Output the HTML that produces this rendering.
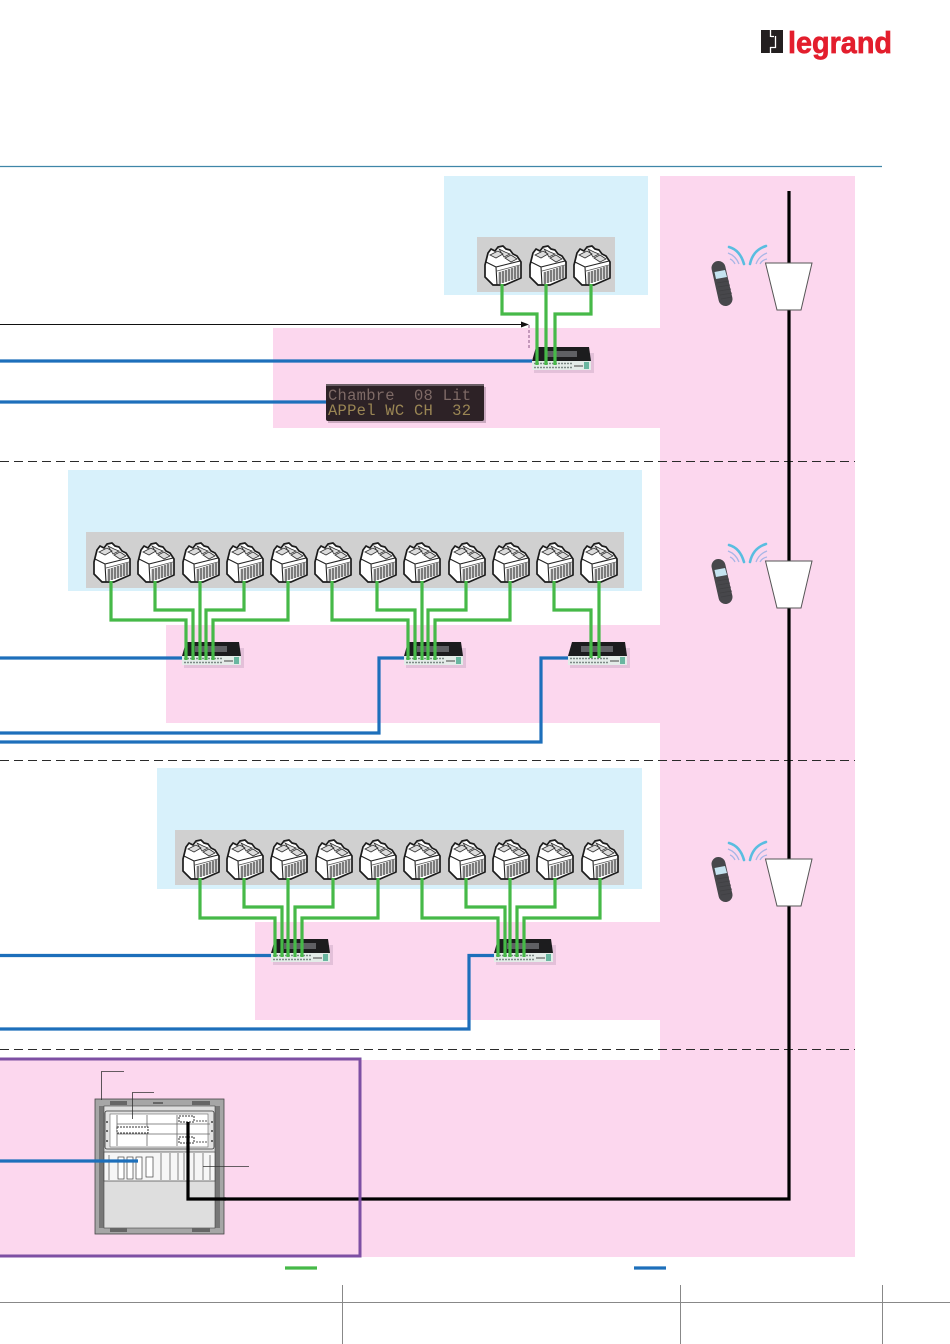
<!DOCTYPE html>
<html><head><meta charset="utf-8"><style>
html,body{margin:0;padding:0;background:#fff}
svg{display:block}
</style></head><body>
<svg xmlns="http://www.w3.org/2000/svg" width="950" height="1344" viewBox="0 0 950 1344">
<defs>
<filter id="soft" x="-5%" y="-5%" width="110%" height="110%"><feGaussianBlur stdDeviation="0.35"/></filter>
<g id="t">
 <path d="M-14,-12 L-11,-16 L-7,-14 L-4,-18 L1,-19 L4,-16 L8,-15 L11,-11 L15,-9 L19,-3 L19,13 L3,20 L-9,20 L-17,12 L-17,0 Z" fill="#fff" stroke="#1a1a1a" stroke-width="1.700" stroke-linejoin="round"/>
 <path d="M-12,-10 L-4,-14 L1,-11 L-6,-7 Z M-3,-16 L3,-13 L8,-11 L2,-8 Z M3,-7 L9,-10 L15,-6 L9,-3 Z" fill="#dcdcdc" stroke="#333" stroke-width=".8"/>
 <path d="M-16,-3 L-6,2 L-5,20 M-6,2 L18,-4" fill="none" stroke="#222" stroke-width="1.100"/>
 <path d="M-5,6 L18,0" fill="none" stroke="#555" stroke-width=".8"/>
 <rect x="-4" y="6" width="22" height="12" fill="#b4b4b4" opacity=".55" transform="skewY(-16)"/>
 <path d="M-2,7 V19 M1,6 V18 M4,5 V17 M7,4 V16 M10,3 V15 M13,2 V14 M16,1 V13" stroke="#333" stroke-width="1.100"/>
</g>
<g id="d">
 <rect x="2" y="6" width="60" height="20" fill="#c9a9c4" opacity=".5"/>
 <path d="M4,0 H57 L59,14 H0 Z" fill="#1c1c1e"/>
 <rect x="13" y="4" width="32" height="6" fill="#5f6064"/>
 <rect x="0" y="14" width="59" height="9" fill="#e4ece9"/>
 <path d="M2,16.500 H40 M2,20.500 H40" stroke="#7d8a87" stroke-width="1.500" stroke-dasharray="2 1"/>
 <path d="M42,19 H51" stroke="#444" stroke-width="1"/>
 <rect x="52" y="15" width="5" height="7" fill="#69b6a0"/>
</g>
<g id="ph">
 <path d="M718.500,268 L725.500,299" stroke="#47474b" stroke-width="14" stroke-linecap="round"/>
 <path d="M714.500,272 L725,270 L727,277 L716,279 Z" fill="#c5e3f0"/>
 <g fill="none" stroke="#3f3f43" stroke-width=".8" opacity=".9"><path d="M717,283 L729,281 M718,287 L730,285 M719,291 L731,289 M720,295 L732,293 M721,299 L732,297"/></g>
 <g fill="none" stroke="#59bde0" stroke-width="2.600" stroke-linecap="round">
  <path d="M729,247 Q740,250 744,264"/>
  <path d="M766,246 Q753,250 750,264"/>
 </g>
 <g fill="none" stroke="#a8b6e6" stroke-width="1.300">
  <path d="M728,253 Q736,256 739,264"/>
  <path d="M767,253 Q759,256 756,264"/>
  <path d="M730,259 Q733,260 735,264"/>
  <path d="M767,259 Q762,260 760,264"/>
 </g>
 <path d="M765.500,263 H812 L801,310 H777 Z" fill="#fff" stroke="#555" stroke-width="1"/>
</g>
</defs>

<rect width="950" height="1344" fill="#fff"/>

<g fill="#fcd7ee">
 <rect x="660" y="176" width="195" height="1081"/>
 <rect x="273" y="328" width="387" height="100"/>
 <rect x="166" y="625" width="494" height="98"/>
 <rect x="255" y="922" width="405" height="98"/>
 <rect x="0" y="1060" width="855" height="197"/>
</g>
<g fill="#d8f1fb">
 <rect x="444" y="176" width="204" height="119"/>
 <rect x="68" y="470" width="574" height="121"/>
 <rect x="157" y="768" width="485" height="121"/>
</g>
<g fill="#d0d0d0">
 <rect x="477" y="237" width="138" height="55"/>
 <rect x="86" y="532" width="538" height="56"/>
 <rect x="175" y="830" width="449" height="55"/>
</g>

<path d="M0,166.500 H882" stroke="#3f86a8" stroke-width="1.200"/>

<!-- logo -->
<rect x="761" y="30" width="22" height="23" fill="#231f20"/>
<path d="M770.500,30 V37 M775.500,36 V47.500 H770 M770.500,47 V53 M771,36.500 H774" fill="none" stroke="#fff" stroke-width="1.300"/>
<text x="788" y="53" font-family="'Liberation Sans',sans-serif" font-weight="700" font-size="31" fill="#e31e2d" stroke="#e31e2d" stroke-width=".7" textLength="104" lengthAdjust="spacingAndGlyphs">legrand</text>

<g stroke="#2a2a2a" stroke-width="1" stroke-dasharray="9 5" fill="none">
 <path d="M0,461.500 H855"/>
 <path d="M0,760.500 H855"/>
 <path d="M0,1049.500 H855"/>
</g>

<g filter="url(#soft)">
 <use href="#t" x="502" y="265"/><use href="#t" x="547" y="265"/><use href="#t" x="591" y="265"/>
 <use href="#t" x="111" y="562"/><use href="#t" x="155" y="562"/><use href="#t" x="200" y="562"/><use href="#t" x="244" y="562"/><use href="#t" x="288" y="562"/><use href="#t" x="332" y="562"/><use href="#t" x="377" y="562"/><use href="#t" x="421" y="562"/><use href="#t" x="466" y="562"/><use href="#t" x="510" y="562"/><use href="#t" x="554" y="562"/><use href="#t" x="598" y="562"/>
 <use href="#t" x="200" y="859"/><use href="#t" x="244" y="859"/><use href="#t" x="288" y="859"/><use href="#t" x="333" y="859"/><use href="#t" x="377" y="859"/><use href="#t" x="421" y="859"/><use href="#t" x="466" y="859"/><use href="#t" x="510" y="859"/><use href="#t" x="554" y="859"/><use href="#t" x="599" y="859"/>
</g>

<use href="#d" x="532" y="347"/>
<use href="#d" x="182" y="642"/>
<use href="#d" x="404" y="642"/>
<use href="#d" x="568" y="642"/>
<use href="#d" x="271" y="939"/>
<use href="#d" x="494" y="939"/>

<g fill="none" stroke="#46b948" stroke-width="3.200">
 <path d="M502,284 V314 H537 V365"/><path d="M546,284 V365"/><path d="M591,284 V314 H555 V365"/>
 <path d="M111,581 V620 H186 V660"/><path d="M155,581 V610 H193 V660"/><path d="M200,581 V660"/><path d="M244,581 V610 H206 V660"/><path d="M288,581 V620 H213 V660"/>
 <path d="M332,581 V620 H408 V660"/><path d="M377,581 V610 H415 V660"/><path d="M422,581 V660"/><path d="M466,581 V610 H428 V660"/><path d="M510,581 V620 H435 V660"/>
 <path d="M554,581 V610 H591 V658"/><path d="M599,581 V658"/>
 <path d="M200,878 V918 H275 V957"/><path d="M244,878 V907 H282 V957"/><path d="M288,878 V957"/><path d="M333,878 V907 H295 V957"/><path d="M378,878 V918 H302 V957"/>
 <path d="M422,878 V918 H498 V957"/><path d="M466,878 V907 H505 V957"/><path d="M510,878 V957"/><path d="M555,878 V907 H517 V957"/><path d="M600,878 V918 H524 V957"/>
</g>

<g fill="none" stroke="#1d6fbb" stroke-width="3.200">
 <path d="M0,361 H532"/>
 <path d="M0,402 H330"/>
 <path d="M0,658 H182"/>
 <path d="M0,733 H379 V658 H404"/>
 <path d="M0,742 H541 V658 H568"/>
 <path d="M0,955.500 H271"/>
 <path d="M0,1029 H469 V955.500 H494"/>
</g>

<path d="M0,324.500 H522" stroke="#111" stroke-width="1"/>
<path d="M521,321.500 L529,324.500 L521,327.500 Z" fill="#111"/>
<path d="M529,325 V348" stroke="#8b5a88" stroke-width="1" stroke-dasharray="3 2"/>

<!-- display -->
<rect x="328" y="387" width="158" height="36" fill="#a98aa0" opacity=".6" filter="url(#soft)"/>
<rect x="326" y="384" width="158" height="37" rx="2" fill="#2d2226"/>
<rect x="326" y="384" width="158" height="2" fill="#6b5f66"/>
<text x="328" y="400" font-family="'Liberation Mono',monospace" font-size="15.500" fill="#7e6a66" textLength="143" xml:space="preserve">Chambre  08 Lit</text>
<text x="328" y="415" font-family="'Liberation Mono',monospace" font-size="15.500" fill="#9a8654" textLength="143" xml:space="preserve">APPel WC CH  32</text>

<path d="M789,191 V1199 H224" fill="none" stroke="#000" stroke-width="3.200"/>

<use href="#ph"/>
<use href="#ph" y="298"/>
<use href="#ph" y="596"/>

<!-- rack -->
<rect x="95" y="1099" width="129" height="135" fill="#a6a6a6" stroke="#444" stroke-width=".8"/>
<rect x="99" y="1106" width="5" height="122" fill="#777"/>
<rect x="215" y="1106" width="5" height="122" fill="#777"/>
<rect x="104" y="1106" width="111" height="122" fill="#dedede" stroke="#444" stroke-width=".6"/>
<rect x="105" y="1111" width="109" height="38" rx="2" fill="#e2e2e2" stroke="#333" stroke-width=".8"/>
<rect x="110" y="1114" width="98" height="33" fill="#fff" stroke="#666" stroke-width=".6"/>
<rect x="104" y="1152" width="111" height="29" fill="#f6f6f6" stroke="#444" stroke-width=".7"/>
<g stroke="#666" stroke-width=".8" fill="none">
 <path d="M117,1115 V1146 M147,1115 V1146 M177,1115 V1146 M117,1124 H210 M117,1134 H210"/>
 <path d="M161,1153 V1180 M170,1153 V1180 M178,1153 V1180 M184,1153 V1180 M194,1153 V1180 M203,1153 V1180"/>
 <path d="M109,1155 V1180 M210,1155 V1180"/>
</g>
<rect x="117" y="1127" width="31" height="6" fill="#fff" stroke="#333" stroke-width="1" stroke-dasharray="2 1"/>
<rect x="179" y="1116" width="15" height="6" fill="#fff" stroke="#333" stroke-width="1" stroke-dasharray="2 1"/>
<rect x="179" y="1137" width="15" height="6" fill="#fff" stroke="#333" stroke-width="1" stroke-dasharray="2 1"/>
<path d="M196,1121 H208 M196,1142 H208" stroke="#555" stroke-width="1" stroke-dasharray="2 1"/>
<g fill="#fff" stroke="#444" stroke-width=".7"><rect x="118" y="1157" width="6" height="22"/><rect x="127" y="1157" width="6" height="22"/><rect x="136" y="1157" width="6" height="22"/><rect x="146" y="1157" width="7" height="20"/></g>
<g fill="#666"><rect x="153" y="1102" width="10" height="2"/><rect x="110" y="1101" width="17" height="4"/><rect x="192" y="1101" width="18" height="4"/><rect x="110" y="1228" width="17" height="4"/><rect x="192" y="1228" width="18" height="4"/></g>
<g fill="#444"><circle cx="107" cy="1122" r="1"/><circle cx="107" cy="1131" r="1"/><circle cx="107" cy="1141" r="1"/><circle cx="212" cy="1122" r="1"/><circle cx="212" cy="1131" r="1"/><circle cx="212" cy="1141" r="1"/></g>

<path d="M0,1161 H138" fill="none" stroke="#1d6fbb" stroke-width="3.200"/>
<path d="M188,1122 V1199 H226" fill="none" stroke="#000" stroke-width="3.200"/>
<g fill="none" stroke="#333" stroke-width=".8">
 <path d="M101.500,1100 V1071.500 H124"/>
 <path d="M132.500,1119 V1092.500 H154"/>
 <path d="M203,1166.500 H249"/>
</g>

<path d="M0,1059 H360 V1256 H0" fill="none" stroke="#7d4fa3" stroke-width="3"/>

<path d="M285,1268 H317" stroke="#46b948" stroke-width="3.200"/>
<path d="M634,1268 H666" stroke="#1d6fbb" stroke-width="3.200"/>

<g stroke="#888" stroke-width="1">
 <path d="M0,1302.500 H950"/>
 <path d="M342.500,1285 V1344 M680.500,1285 V1344 M882.500,1285 V1344"/>
</g>
</svg>
</body></html>
